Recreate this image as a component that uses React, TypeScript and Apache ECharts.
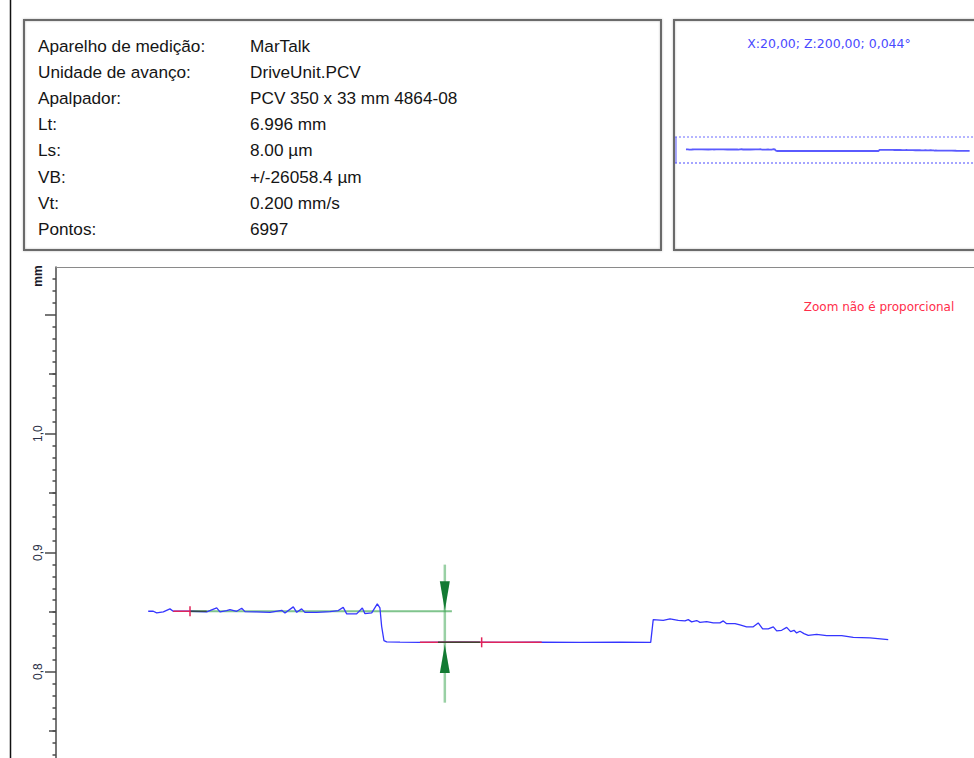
import React, { useEffect, useRef } from "react";
import * as echarts from "echarts";

// ---- Data ----
const infoLabels = [
  "Aparelho de medição:",
  "Unidade de avanço:",
  "Apalpador:",
  "Lt:",
  "Ls:",
  "VB:",
  "Vt:",
  "Pontos:",
];
const infoValues = [
  "MarTalk",
  "DriveUnit.PCV",
  "PCV 350 x 33 mm 4864-08",
  "6.996 mm",
  "8.00 µm",
  "+/-26058.4 µm",
  "0.200 mm/s",
  "6997",
];
const overviewTitle = "X:20,00; Z:200,00; 0,044°";
const zoomNote = "Zoom não é proporcional";
const yUnit = "mm";

// profile: x in mm, z in mm
const profileX = [
  -0.026, 0.022, 0.054, 0.117, 0.18, 0.211, 0.37, 0.528, 0.623, 0.654, 0.717, 0.749, 0.812, 0.86,
  0.891, 1.002, 1.128, 1.239, 1.27, 1.349, 1.381, 1.428, 1.459, 1.57, 1.696, 1.775, 1.822, 1.855,
  1.949, 2.003, 2.028, 2.092, 2.145, 2.17, 2.186, 2.208, 2.234, 2.36, 2.549, 2.928, 3.307, 3.686,
  4.066, 4.445, 4.736, 4.76, 4.855, 4.919, 4.997, 5.061, 5.092, 5.124, 5.172, 5.203, 5.266, 5.329,
  5.392, 5.424, 5.456, 5.535, 5.582, 5.645, 5.708, 5.755, 5.797, 5.85, 5.898, 5.93, 5.977, 6.025,
  6.062, 6.094, 6.119, 6.151, 6.189, 6.229, 6.309, 6.404, 6.546, 6.656, 6.814, 6.987,
];
const profileZ = [
  0.8507, 0.8507, 0.8493, 0.8502, 0.8527, 0.8507, 0.8507, 0.8502, 0.8535, 0.8502, 0.8513, 0.8521,
  0.8507, 0.8532, 0.8504, 0.8502, 0.8498, 0.8515, 0.8493, 0.8544, 0.8498, 0.8527, 0.8498, 0.8498,
  0.8504, 0.8513, 0.854, 0.8485, 0.8485, 0.8535, 0.8487, 0.8493, 0.8569, 0.8535, 0.8381, 0.8261,
  0.825, 0.8248, 0.8246, 0.8248, 0.8245, 0.8248, 0.8246, 0.8248, 0.8246, 0.8437, 0.8431, 0.8443,
  0.8431, 0.8426, 0.8437, 0.8418, 0.8429, 0.8414, 0.842, 0.8409, 0.8409, 0.8426, 0.8403, 0.8403,
  0.8392, 0.8376, 0.8376, 0.8409, 0.8359, 0.8359, 0.8376, 0.8342, 0.8347, 0.8372, 0.8336, 0.8347,
  0.8325, 0.8339, 0.8319, 0.8305, 0.8313, 0.8303, 0.8303, 0.8288, 0.8283, 0.8269,
];

// evaluation overlays (mm)
const upperLevel = 0.8507;
const lowerLevel = 0.8246;
const upperGreen = [0.37, 2.852];
const upperRed = [0.211, 0.37];
const upperDark = [0.37, 0.528];
const lowerRed = [2.549, 3.703];
const lowerDark = [2.72, 3.118];
const crossX = [0.37, 3.134];
const gaugeX = 2.785;
const gaugeRange = [0.7739, 0.8899];
const arrowTip = [0.8513, 0.8227];
const arrowBase = [0.8759, 0.7989];

// axis ticks
const yMajorTicks = [0.7, 0.8, 0.9, 1.0, 1.1];
const yMidTicks = [0.75, 0.85, 0.95, 1.05];
const yLabelValues = [0.8, 0.9, 1.0];

export default function App() {
  const ref = useRef<HTMLDivElement>(null);

  useEffect(() => {
    if (!ref.current) return;
    const chart = echarts.init(ref.current, null, { renderer: "svg" });
    const profile = profileX.map((x, i) => [x, profileZ[i]]);
    const seg = (xs: number[], y: number) => [
      [xs[0], y],
      [xs[1], y],
    ];
    const lineSeries = (data: any, color: string, width: number, z: number) => ({
      type: "line",
      xAxisIndex: 0,
      yAxisIndex: 0,
      data,
      showSymbol: false,
      symbol: "none",
      silent: true,
      z,
      lineStyle: { color, width },
    });

    const sansFont = "'Liberation Sans', Arial, Helvetica, sans-serif";
    const smallFont = "'DejaVu Sans', Verdana, sans-serif";
    const infoFs = 17.2;
    const rowY0 = 45.5;
    const rowStep = 26.2;

    const infoTexts: any[] = [];
    infoLabels.forEach((t, i) => {
      infoTexts.push({
        type: "text",
        x: 38,
        y: rowY0 + i * rowStep,
        style: {
          text: t,
          font: `${infoFs}px ${sansFont}`,
          fill: "#151515",
          verticalAlign: "middle",
          align: "left",
        },
      });
      infoTexts.push({
        type: "text",
        x: 250,
        y: rowY0 + i * rowStep,
        style: {
          text: infoValues[i],
          font: `${infoFs}px ${sansFont}`,
          fill: "#151515",
          verticalAlign: "middle",
          align: "left",
        },
      });
    });

    const option: any = {
      animation: false,
      grid: [
        { left: 56, top: 267, width: 918, height: 523.6, outerBoundsMode: "none", containLabel: false },
        { left: 675, top: 137, width: 299, height: 26, outerBoundsMode: "none", containLabel: false },
      ],
      xAxis: [
        {
          gridIndex: 0,
          type: "value",
          min: -0.9,
          max: 7.8,
          position: "top",
          axisLine: { show: true, onZero: false, lineStyle: { color: "#8a8a8a", width: 1 } },
          axisTick: { show: false },
          axisLabel: { show: false },
          splitLine: { show: false },
        },
        {
          gridIndex: 1,
          type: "value",
          min: -0.297,
          max: 7.095,
          show: false,
        },
      ],
      yAxis: [
        {
          gridIndex: 0,
          type: "value",
          position: "left",
          min: 0.7,
          max: 1.14,
          interval: 0.1,
          axisLine: { show: true, onZero: false, lineStyle: { color: "#4a4a4a", width: 1.5 } },
          axisTick: {
            show: true,
            length: 11,
            customValues: yMajorTicks,
            lineStyle: { color: "#4a4a4a", width: 1.5 },
          },
          minorTick: {
            show: true,
            splitNumber: 10,
            length: 3.5,
            lineStyle: { color: "#4a4a4a", width: 1.5 },
          },
          axisLabel: {
            show: true,
            customValues: yLabelValues,
            rotate: 90,
            margin: 12,
            color: "#2a2f45",
            fontSize: 12,
            fontFamily: sansFont,
            formatter: (v: number) => v.toFixed(1).replace(".", ","),
          },
          splitLine: { show: false },
        },
        {
          gridIndex: 0,
          type: "value",
          position: "left",
          offset: 0,
          min: 0.7,
          max: 1.14,
          interval: 0.05,
          axisLine: { show: false, onZero: false },
          axisTick: {
            show: true,
            length: 7,
            customValues: yMidTicks,
            lineStyle: { color: "#4a4a4a", width: 1.5 },
          },
          axisLabel: { show: false },
          splitLine: { show: false },
        },
        {
          gridIndex: 1,
          type: "value",
          min: 0.625,
          max: 1.058,
          show: false,
        },
      ],
      series: [
        lineSeries(
          [
            [gaugeX, gaugeRange[0]],
            [gaugeX, gaugeRange[1]],
          ],
          "rgba(70,170,90,0.55)",
          2.5,
          1
        ),
        lineSeries(seg(upperGreen, upperLevel), "rgba(60,165,80,0.65)", 2, 1),
        lineSeries(profile, "#3535ff", 1.3, 2),
        lineSeries(seg(upperRed, upperLevel), "#e0245a", 1.5, 3),
        lineSeries(seg(lowerRed, lowerLevel), "#e0245a", 1.5, 3),
        lineSeries(seg(upperDark, upperLevel), "rgba(50,70,50,0.85)", 1.5, 3),
        lineSeries(seg(lowerDark, lowerLevel), "rgba(40,70,40,0.85)", 1.5, 3),
        lineSeries(
          [
            [crossX[0], upperLevel - 0.0042],
            [crossX[0], upperLevel + 0.0042],
          ],
          "#e0245a",
          1.5,
          3
        ),
        lineSeries(
          [
            [crossX[1], lowerLevel - 0.0042],
            [crossX[1], lowerLevel + 0.0042],
          ],
          "#e0245a",
          1.5,
          3
        ),
        {
          type: "custom",
          xAxisIndex: 0,
          yAxisIndex: 0,
          silent: true,
          z: 4,
          data: [
            [gaugeX, arrowTip[0], arrowBase[0]],
            [gaugeX, arrowTip[1], arrowBase[1]],
          ],
          encode: { x: 0, y: [1, 2] },
          renderItem: (params: any, api: any) => {
            const tip = api.coord([api.value(0), api.value(1)]);
            const base = api.coord([api.value(0), api.value(2)]);
            return {
              type: "polygon",
              shape: {
                points: [
                  [tip[0], tip[1]],
                  [base[0] - 5, base[1]],
                  [base[0] + 5, base[1]],
                ],
              },
              style: { fill: "#137a33" },
            };
          },
        },
        {
          type: "line",
          xAxisIndex: 1,
          yAxisIndex: 2,
          data: profile,
          showSymbol: false,
          symbol: "none",
          silent: true,
          lineStyle: { color: "#5a5aff", width: 1.8 },
        },
      ],
      graphic: [
        {
          type: "line",
          shape: { x1: 10.5, y1: 0, x2: 10.5, y2: 758 },
          style: { stroke: "#111", lineWidth: 1.5 },
        },
        {
          type: "rect",
          shape: { x: 24, y: 20, width: 637, height: 230 },
          style: { fill: "none", stroke: "#6b6b6b", lineWidth: 2, shadowBlur: 2, shadowColor: "rgba(0,0,0,0.25)" },
        },
        {
          type: "rect",
          shape: { x: 674, y: 20, width: 330, height: 230 },
          style: { fill: "none", stroke: "#6b6b6b", lineWidth: 2, shadowBlur: 2, shadowColor: "rgba(0,0,0,0.25)" },
        },
        ...infoTexts,
        {
          type: "text",
          x: 829,
          y: 43,
          style: {
            text: overviewTitle,
            font: `12.5px ${smallFont}`,
            fill: "#4a4aff",
            align: "center",
            verticalAlign: "middle",
          },
        },
        {
          type: "line",
          shape: { x1: 675, y1: 137, x2: 974, y2: 137 },
          style: { stroke: "#6a6aff", lineWidth: 1, lineDash: [2, 2] },
        },
        {
          type: "line",
          shape: { x1: 675, y1: 163, x2: 974, y2: 163 },
          style: { stroke: "#4a4aff", lineWidth: 1, lineDash: [2, 2] },
        },
        {
          type: "line",
          shape: { x1: 676, y1: 137, x2: 676, y2: 163 },
          style: { stroke: "#5a5aff", lineWidth: 1 },
        },
        {
          type: "text",
          x: 879,
          y: 307,
          style: {
            text: zoomNote,
            font: `12px ${smallFont}`,
            fill: "#ff2d4a",
            align: "center",
            verticalAlign: "middle",
          },
        },
        {
          type: "text",
          x: 38,
          y: 276,
          rotation: Math.PI / 2,
          style: {
            text: yUnit,
            font: `bold 12px ${sansFont}`,
            fill: "#1a1a2a",
            align: "center",
            verticalAlign: "middle",
          },
        },
      ],
    };
    chart.setOption(option);
    return () => chart.dispose();
  }, []);

  return (
    <div
      ref={ref}
      style={{ position: "absolute", left: 0, top: 0, width: 974, height: 758, background: "#fff", overflow: "hidden" }}
    />
  );
}
